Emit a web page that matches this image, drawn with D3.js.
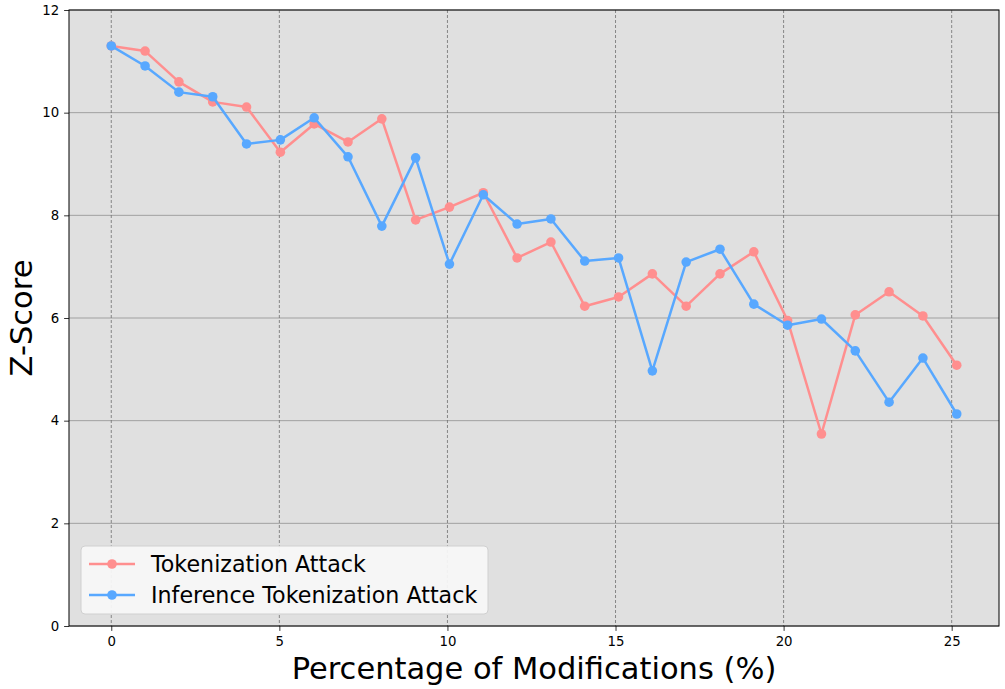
<!DOCTYPE html>
<html>
<head>
<meta charset="utf-8">
<script src="https://cdn.jsdelivr.net/npm/d3@7"></script>
<style>
  html, body { margin: 0; padding: 0; background: #fff; }
  svg { display: block; font-family: "DejaVu Sans", sans-serif; }
</style>
</head>
<body>
<svg id="chart" width="1005" height="689"></svg>
<script>
// ---- data ----
const modificationIndex = d3.range(26);
const xStep = 1.006;
const tokenizationAttack = [11.30, 11.20, 10.60, 10.21, 10.11, 9.23, 9.78, 9.43, 9.88, 7.91,
  8.16, 8.44, 7.17, 7.48, 6.23, 6.41, 6.86, 6.23, 6.86, 7.29,
  5.95, 3.74, 6.06, 6.51, 6.04, 5.08];
const inferenceTokenizationAttack = [11.30, 10.91, 10.40, 10.31, 9.39, 9.47, 9.90, 9.14, 7.79, 9.12,
  7.05, 8.40, 7.83, 7.93, 7.11, 7.17, 4.97, 7.09, 7.34, 6.27,
  5.86, 5.98, 5.36, 4.36, 5.22, 4.13];
const xTicks = [0, 5, 10, 15, 20, 25];
const yTicks = [0, 2, 4, 6, 8, 10, 12];
const seriesNames = ["Tokenization Attack", "Inference Tokenization Attack"];
const seriesColors = ["#ff8f8f", "#58a8ff"];

// ---- layout ----
const svg = d3.select("#chart");
const L = 69, R = 999, T = 10, B = 626;
const xs = modificationIndex.map(i => i * xStep);
const xMax = d3.max(xs);
const pad = xMax * 0.05;
const x = d3.scaleLinear().domain([-pad, xMax + pad]).range([L, R]);
const y = d3.scaleLinear().domain([0, 12]).range([B, T]);

svg.append("rect").attr("x", L).attr("y", T).attr("width", R - L).attr("height", B - T)
  .attr("fill", "#e0e0e0");

// grid
const g = svg.append("g");
g.selectAll(".hg").data(yTicks).join("line")
  .attr("x1", L).attr("x2", R)
  .attr("y1", d => y(d)).attr("y2", d => y(d))
  .attr("stroke", "#a0a0a0").attr("stroke-width", 1);
g.selectAll(".vg").data(xTicks).join("line")
  .attr("x1", d => x(d)).attr("x2", d => x(d))
  .attr("y1", T).attr("y2", B)
  .attr("stroke", "#707070").attr("stroke-width", 0.8).attr("stroke-dasharray", "3,2");

// axes
const xAxis = svg.append("g").attr("transform", `translate(0,${B})`)
  .call(d3.axisBottom(x).tickValues(xTicks).tickSize(4.9).tickPadding(5.5).tickFormat(d3.format("d")));
const yAxis = svg.append("g").attr("transform", `translate(${L},0)`)
  .call(d3.axisLeft(y).tickValues(yTicks).tickSize(4.9).tickPadding(5).tickFormat(d3.format("d")));
[xAxis, yAxis].forEach(a => {
  a.select(".domain").remove();
  a.selectAll("text").attr("font-family", "DejaVu Sans").attr("font-size", "13.3px").attr("fill", "#000");
  a.selectAll("line").attr("stroke", "#000").attr("stroke-width", 0.8);
});

// series
const allSeries = [tokenizationAttack, inferenceTokenizationAttack];
const line = d3.line().x((d, i) => x(xs[i])).y(d => y(d));
allSeries.forEach((s, k) => {
  const sg = svg.append("g");
  sg.append("path").datum(s).attr("d", line)
    .attr("fill", "none").attr("stroke", seriesColors[k]).attr("stroke-width", 2.5)
    .attr("stroke-linejoin", "round");
  sg.selectAll("circle").data(s).join("circle")
    .attr("cx", (d, i) => x(xs[i])).attr("cy", d => y(d)).attr("r", 4.8)
    .attr("fill", seriesColors[k]);
});

// frame
svg.append("rect").attr("x", L).attr("y", T).attr("width", R - L).attr("height", B - T)
  .attr("fill", "none").attr("stroke", "#000").attr("stroke-width", 1);

// legend
const lg = svg.append("g");
lg.append("rect").attr("x", 81).attr("y", 546).attr("width", 407).attr("height", 68)
  .attr("rx", 4).attr("fill", "#f7f7f7").attr("fill-opacity", 0.95)
  .attr("stroke", "#d0d0d0").attr("stroke-width", 1);
seriesNames.forEach((n, k) => {
  const cy = 564 + k * 31;
  lg.append("line").attr("x1", 89).attr("x2", 135).attr("y1", cy).attr("y2", cy)
    .attr("stroke", seriesColors[k]).attr("stroke-width", 2.5);
  lg.append("circle").attr("cx", 112).attr("cy", cy).attr("r", 4.8).attr("fill", seriesColors[k]);
  lg.append("text").attr("x", 151).attr("y", cy).attr("dy", "0.36em")
    .attr("font-size", "22.2px").attr("fill", "#000").text(n);
});

// axis labels
svg.append("text").attr("x", (L + R) / 2).attr("y", 679).attr("text-anchor", "middle")
  .attr("font-size", "30.5px").attr("fill", "#000").text("Percentage of Modifications (%)");
svg.append("text").attr("transform", `translate(32,${(T + B) / 2}) rotate(-90)`)
  .attr("text-anchor", "middle").attr("font-size", "30.5px").attr("fill", "#000").text("Z-Score");
</script>
</body>
</html>
